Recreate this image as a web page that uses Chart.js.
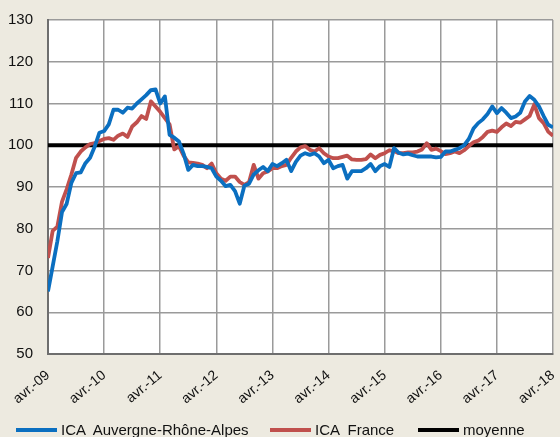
<!DOCTYPE html>
<html lang="fr">
<head>
<meta charset="utf-8">
<script src="https://cdn.jsdelivr.net/npm/chart.js@4"></script>
<style>
  html, body { margin: 0; padding: 0; background: #edeae0; }
  #wrap { position: relative; width: 560px; height: 437px; }
  #legende { position: absolute; left: 0; top: 421px; width: 560px; height: 17px;
             font: 15px "Liberation Sans", Arial, sans-serif; color: #111; }
  #legende span { position: absolute; top: 0; white-space: pre; line-height: 17px; }
  #legende i { position: absolute; top: 7px; height: 4px; width: 41px; }
</style>
</head>
<body>
<div id="wrap">
  <canvas id="grafico" width="560" height="437"></canvas>
  <div id="legende"></div>
</div>
<script>
// mois d'avril 2009 à avril 2018
const tickLabels = ['avr.-09', 'avr.-10', 'avr.-11', 'avr.-12', 'avr.-13', 'avr.-14', 'avr.-15', 'avr.-16', 'avr.-17', 'avr.-18'];

const icaAura = [
    65, 71, 77, 84, 86, 91, 93.3, 93.5, 95.7, 97, 99.7, 103,
    103.4, 105, 108.5, 108.5, 107.8, 109, 108.8, 110, 111, 112, 113.2, 113.4,
    110, 111.7, 102.5, 101.8, 100.9, 98, 94.1, 95.3, 95, 95, 94.8, 94.5,
    92.5, 91.5, 90.2, 90.5, 89, 86, 90.3, 90.8, 93, 94, 94.8, 93.8,
    95.5, 95, 95.7, 96.5, 93.8, 96, 97.5, 98.1, 97.7, 98.1, 97.3, 95.7,
    96.5, 94.5, 95, 95.3, 92, 93.8, 93.8, 93.8, 94.5, 95.5, 93.8, 95,
    95.5, 94.8, 99.3, 98.2, 97.8, 98, 97.6, 97.3, 97.3, 97.3, 97.3, 97.1,
    97.2, 98.5, 98.5, 98.9, 99.3, 100, 101.5, 104, 105.3, 106.2, 107.5, 109.3,
    107.7, 108.9, 107.8, 106.5, 106.9, 107.8, 110.5, 111.8, 110.9, 109.3, 107, 104.9,
    104.3
];

const icaFrance = [
    73, 79.5, 80.5, 86.5, 89.5, 93, 97, 98.5, 99.5, 100.3, 100.5, 101,
    101.5, 101.7, 101.3, 102.3, 102.8, 102, 104.5, 105.5, 107, 106.3, 110.5, 109.3,
    108, 106.5, 105, 99, 99.8, 97.5, 95.9, 95.8, 95.6, 95.3, 94.5, 95.6,
    93.3, 92, 91.5, 92.5, 92.5, 91.2, 90.5, 91.2, 95.3, 92, 93.3, 93.7,
    94.5, 94.5, 95, 95.3, 97, 98.5, 99.5, 99.8, 98.9, 98.5, 99.3, 98.1,
    97.3, 96.9, 96.9, 97.2, 97.5, 96.6, 96.5, 96.5, 96.7, 97.8, 96.9, 97.7,
    98.1, 98.8, 98.6, 98.1, 98.1, 98.3, 98.3, 98.5, 99, 100.5, 98.9, 99.2,
    98.6, 97.9, 98.1, 98.5, 98.1, 98.8, 99.8, 100.7, 101.1, 102, 103.2, 103.5,
    103.2, 104.3, 105.2, 104.6, 105.6, 105.4, 106.2, 107, 109.8, 106.5, 105.3, 103.2,
    102.3
];

const moyenne = 100;

const series = [
    { nom: 'ICA  Auvergne-Rhône-Alpes', valeurs: icaAura, couleur: '#0b6fc0', largeur: 3.8 },
    { nom: 'ICA  France', valeurs: icaFrance, couleur: '#c0504d', largeur: 3.8 }
];

function enPoints(valeurs) {
    return valeurs.map((v, i) => ({ x: i, y: v }));
}

const fondBlanc = {
    id: 'fondBlanc',
    beforeDraw(chart) {
        const a = chart.chartArea;
        chart.ctx.save();
        chart.ctx.fillStyle = '#ffffff';
        chart.ctx.fillRect(a.left, a.top, a.right - a.left, a.bottom - a.top);
        chart.ctx.restore();
    }
};

const datasets = series.map(s => ({
    label: s.nom,
    data: enPoints(s.valeurs),
    borderColor: s.couleur,
    borderWidth: s.largeur,
    pointRadius: 0,
    tension: 0,
    borderJoinStyle: 'round'
}));
datasets.push({
    label: 'moyenne',
    data: [{ x: 0, y: moyenne }, { x: icaAura.length - 1, y: moyenne }],
    borderColor: '#000000',
    borderWidth: 4,
    pointRadius: 0
});

const police = { family: '"Liberation Sans", Arial, sans-serif', size: 15 };

new Chart(document.getElementById('grafico'), {
    type: 'line',
    data: { datasets },
    plugins: [fondBlanc],
    options: {
        responsive: false,
        animation: false,
        layout: { padding: { top: 20, right: 7, left: 0, bottom: 0 } },
        plugins: { legend: { display: false }, tooltip: { enabled: false } },
        scales: {
            x: {
                type: 'linear',
                min: 0,
                max: icaAura.length - 1,
                afterFit: s => { s.height = 83; s.paddingRight = 0; s.paddingLeft = 0; },
                border: { color: '#6e6e6e', width: 2 },
                grid: { color: '#9a9a9a', lineWidth: 1.5, drawTicks: false },
                ticks: {
                    stepSize: 12,
                    autoSkip: false,
                    minRotation: 40,
                    maxRotation: 40,
                    padding: 13,
                    color: '#111',
                    font: { family: police.family, size: 14 },
                    callback: v => tickLabels[v / 12]
                }
            },
            y: {
                min: 50,
                max: 130,
                afterFit: s => { s.width = 48; s.paddingTop = 0; s.paddingBottom = 0; },
                border: { color: '#6e6e6e', width: 2 },
                grid: { color: '#9a9a9a', lineWidth: 1.5, drawTicks: false },
                ticks: { stepSize: 10, padding: 15, color: '#111', font: police }
            }
        }
    }
});

// légende en bas
const legende = document.getElementById('legende');
const positions = [16, 270, 418];
datasets.forEach((d, k) => {
    const trait = document.createElement('i');
    trait.style.left = positions[k] + 'px';
    trait.style.background = d.borderColor;
    legende.appendChild(trait);
    const texte = document.createElement('span');
    texte.style.left = (positions[k] + 45) + 'px';
    texte.textContent = d.label;
    legende.appendChild(texte);
});
</script>
</body>
</html>
